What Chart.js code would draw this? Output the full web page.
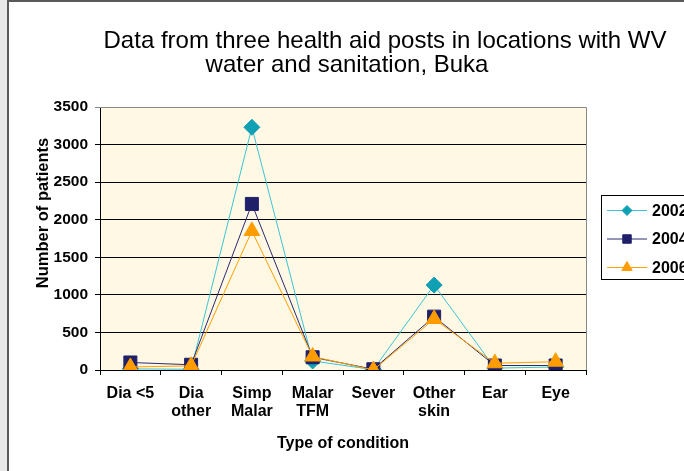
<!DOCTYPE html>
<html>
<head>
<meta charset="utf-8">
<script src="https://cdn.jsdelivr.net/npm/chart.js@4.4.0/dist/chart.umd.min.js"></script>
<style>
  body { margin: 0; background: #fff; }
  #frame { position: relative; width: 684px; height: 471px; overflow: hidden; }
  #strip { position: absolute; left: 0; top: 0; width: 7px; height: 471px; background: #e8e8e8; }
  #vline { position: absolute; left: 7px; top: 0; width: 2px; height: 471px; background: #5a5a5a; }
  #hline { position: absolute; left: 7px; top: 0; width: 677px; height: 2px; background: #5a5a5a; }
  #chart { position: absolute; left: 0; top: 0; }
</style>
</head>
<body>
<div id="frame">
  <div id="strip"></div>
  <div id="vline"></div>
  <div id="hline"></div>
  <canvas id="chart" width="684" height="471"></canvas>
</div>
<script>
let categories = [["Dia <5"], ["Dia", "other"], ["Simp", "Malar"], ["Malar", "TFM"], ["Sever"], ["Other", "skin"], ["Ear"], ["Eye"]];
let seriesNames = ["2002", "2004", "2006"];
let values2002 = [15, 10, 3230, 120, 5, 1130, 25, 40];
let values2004 = [100, 70, 2210, 170, 10, 710, 60, 60];
let values2006 = [40, 55, 1850, 180, 0, 680, 90, 110];
let yTicks = [0, 500, 1000, 1500, 2000, 2500, 3000, 3500];

let titleLines = ["Data from three health aid posts in locations with WV", "water and sanitation, Buka"];
let yTitle = "Number of patients";
let xTitle = "Type of condition";

const FONT = "'Liberation Sans', Arial, sans-serif";

// background, plot border, title lines, y title and legend
let decorPlugin = {
	id: "decor",
	beforeDatasetsDraw(chart) {
		let ctx = chart.ctx;
		let a = chart.chartArea;
		ctx.save();
		ctx.strokeStyle = "#888";
		ctx.lineWidth = 1;
		ctx.beginPath();
		ctx.moveTo(a.left, a.top + 0.5);
		ctx.lineTo(a.right + 0.5, a.top + 0.5);
		ctx.lineTo(a.right + 0.5, a.bottom);
		ctx.stroke();
		ctx.restore();
	},
	beforeDraw(chart) {
		let ctx = chart.ctx;
		let a = chart.chartArea;
		ctx.save();
		ctx.fillStyle = "#FFF8E5";
		ctx.fillRect(a.left, a.top, a.right - a.left, a.bottom - a.top);
		ctx.restore();
	},
	afterDraw(chart) {
		let ctx = chart.ctx;
		ctx.save();

		ctx.fillStyle = "#000";
		ctx.font = "24px " + FONT;
		ctx.textAlign = "center";
		ctx.textBaseline = "alphabetic";
		ctx.fillText(titleLines[0], 385, 48);
		ctx.fillText(titleLines[1], 347, 72);

		ctx.font = "bold 16.5px " + FONT;
		ctx.translate(43, 213);
		ctx.rotate(-Math.PI / 2);
		ctx.textBaseline = "middle";
		ctx.fillText(yTitle, 0, 0);
		ctx.setTransform(1, 0, 0, 1, 0, 0);

		// legend box
		ctx.strokeStyle = "#000";
		ctx.lineWidth = 1;
		ctx.strokeRect(601.5, 195.5, 100, 84);
		let rows = [210.5, 239, 267.5];
		let legendRadius = [5, 6, 6];
		chart.data.datasets.forEach((ds, i) => {
			let y = rows[i];
			ctx.strokeStyle = ds.borderColor;
			ctx.lineWidth = 1;
			ctx.beginPath();
			ctx.moveTo(607, y);
			ctx.lineTo(647, y);
			ctx.stroke();
			ctx.fillStyle = ds.pointBackgroundColor;
			ctx.strokeStyle = ds.pointBorderColor;
			Chart.helpers.drawPoint(ctx, { pointStyle: ds.pointStyle, radius: legendRadius[i], borderWidth: 1, rotation: 0 }, 627, y);
			ctx.fillStyle = "#000";
			ctx.font = "bold 16px " + FONT;
			ctx.textAlign = "left";
			ctx.textBaseline = "middle";
			ctx.fillText(seriesNames[i], 652, y + 1);
		});
		ctx.restore();
	}
};

let chart = new Chart(document.getElementById("chart"), {
	type: "line",
	data: {
		labels: categories,
		datasets: [{
			label: seriesNames[0],
			data: values2002,
			borderColor: "#3CC4D4",
			borderWidth: 1,
			pointStyle: "rectRot",
			pointRadius: 8,
			pointBackgroundColor: "#10A0B4",
			pointBorderColor: "#10A0B4",
			pointBorderWidth: 1,
			order: 2
		}, {
			label: seriesNames[1],
			data: values2004,
			borderColor: "#2A2A70",
			borderWidth: 1,
			pointStyle: "rect",
			pointRadius: 9.2,
			pointBackgroundColor: "#20206A",
			pointBorderColor: "#20206A",
			pointBorderWidth: 1,
			order: 1
		}, {
			label: seriesNames[2],
			data: values2006,
			borderColor: "#FFA000",
			borderWidth: 1,
			pointStyle: "triangle",
			pointRadius: 9,
			pointBackgroundColor: "#FF9D00",
			pointBorderColor: "#FF9D00",
			pointBorderWidth: 1,
			order: 0
		}]
	},
	options: {
		responsive: false,
		animation: false,
		events: [],
		layout: { padding: { left: 0, top: 107, right: 98, bottom: 0 } },
		plugins: {
			legend: { display: false },
			title: { display: false },
			tooltip: { enabled: false }
		},
		elements: { line: { tension: 0 } },
		scales: {
			x: {
				offset: true,
				grid: { offset: true, drawOnChartArea: false, tickLength: 5, color: "#000" },
				border: { color: "#000", width: 1 },
				ticks: {
					color: "#000",
					padding: 10,
					maxRotation: 0,
					autoSkip: false,
					font: { family: FONT, size: 16, weight: "bold", lineHeight: 1.1 }
				},
				title: {
					display: true,
					text: xTitle,
					color: "#000",
					padding: { top: 0, bottom: 18 },
					font: { family: FONT, size: 16, weight: "bold", lineHeight: 1.2 }
				},
				afterFit(scale) { scale.height = 101; }
			},
			y: {
				min: yTicks[0],
				max: yTicks[yTicks.length - 1],
				afterBuildTicks(scale) { scale.ticks = yTicks.map(v => ({ value: v })); },
				grid: {
					tickLength: 5,
					color: c => (c.tick && c.tick.value === 3500) ? "#888" : "#000"
				},
				border: { color: "#000", width: 1 },
				ticks: {
					color: "#000",
					padding: 7,
					callback: v => String(v),
					font: { family: FONT, size: 15.5, weight: "bold" }
				},
				afterFit(scale) { scale.width = 100; }
			}
		}
	},
	plugins: [decorPlugin]
});
</script>
</body>
</html>
